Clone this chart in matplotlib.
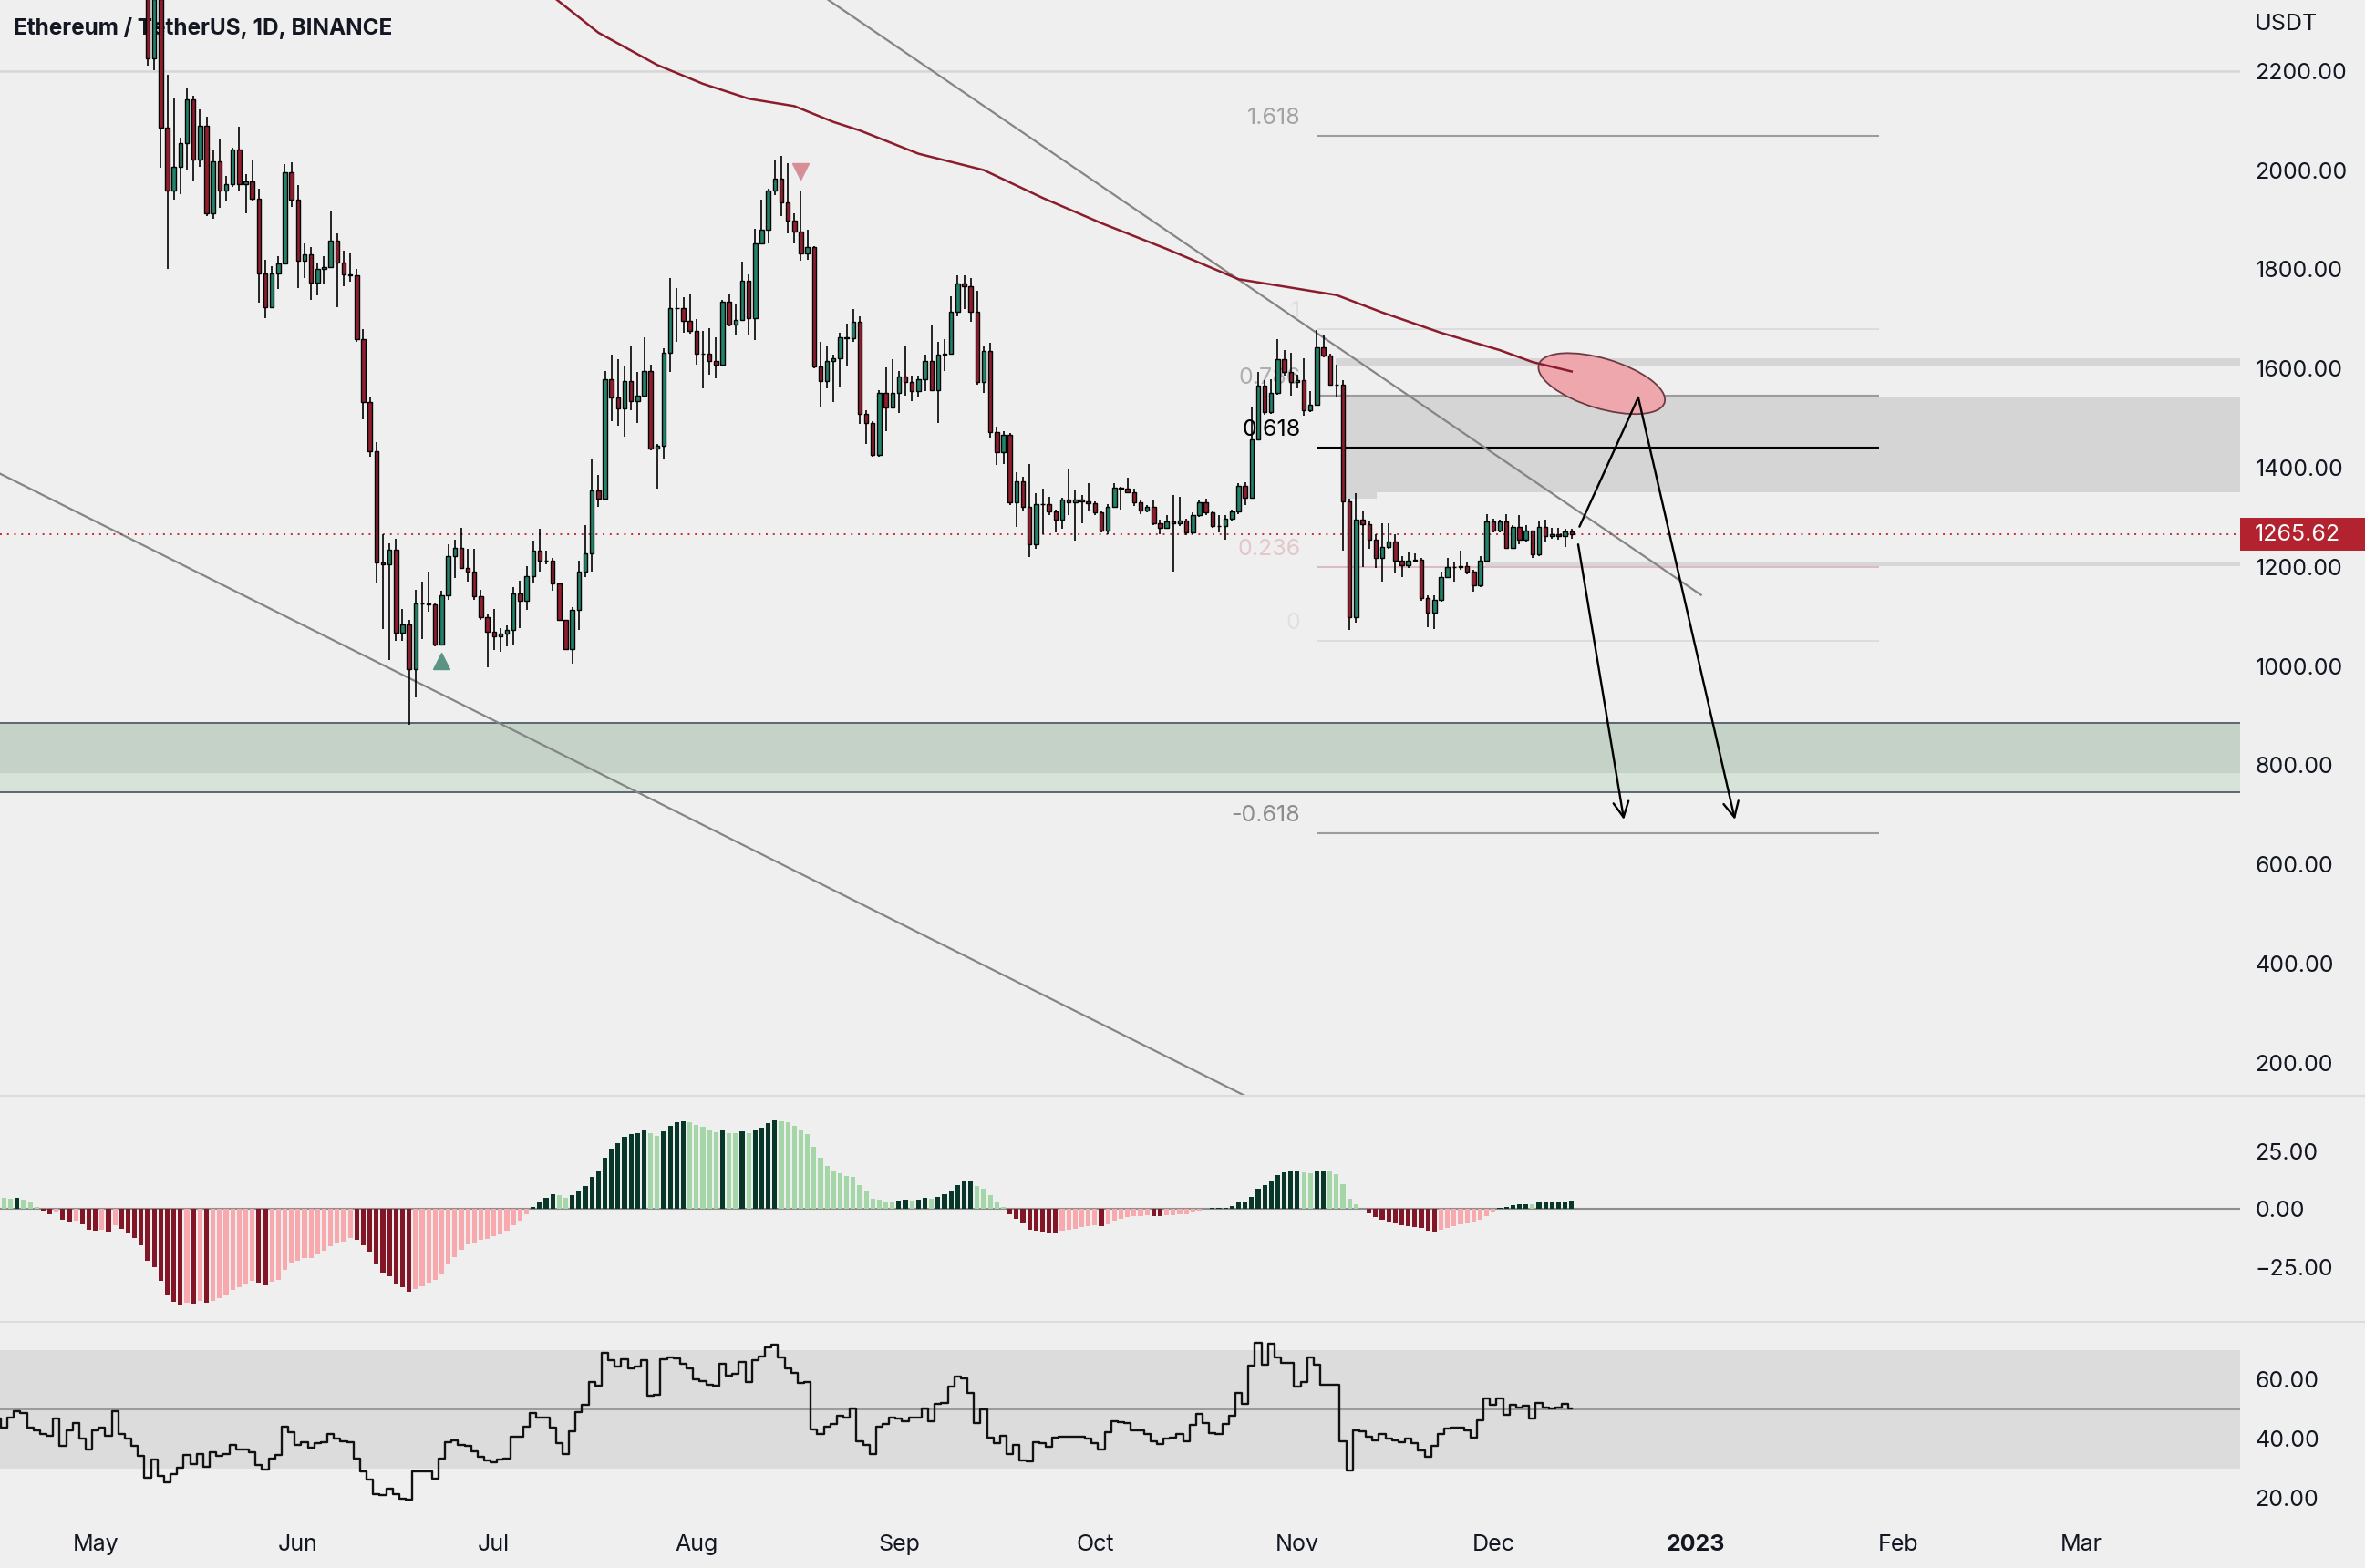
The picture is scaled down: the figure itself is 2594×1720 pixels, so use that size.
import numpy as np
import pandas as pd
import matplotlib
matplotlib.use("Agg")
import matplotlib.pyplot as plt
import matplotlib.transforms as mtransforms
from matplotlib.patches import Rectangle, Ellipse
from matplotlib.lines import Line2D

plt.rcParams['font.family'] = ['Inter', 'DejaVu Sans']

BG = '#efefef'
TXT = '#131722'
UP = '#24826a'
DOWN = '#8f1f2e'

T0 = pd.Timestamp('2022-05-01')


def day(s):
    return (pd.Timestamp(s) - T0).days


# ---- daily candles ETH/USDT, open = previous close ----
candle_start = '2022-05-09'
first_open = 2520

close_may = [2225, 2345, 2085, 1958, 2007, 2054, 2143, 2022, 2090, 1912, 2017, 1958, 1972, 2041, 1972, 1977,
             1942, 1792, 1724, 1792, 1811, 1996, 1940]
high_may = [2540, 2450, 2450, 2193, 2146, 2066, 2167, 2150, 2122, 2108, 2040, 2063, 1988, 2045, 2088, 1991,
            2021, 1963, 1820, 1807, 1826, 2012, 2015]
low_may = [2210, 2202, 2005, 1801, 1940, 1951, 2001, 1979, 2007, 1907, 1902, 1923, 1938, 1967, 1957, 1912,
           1938, 1733, 1702, 1722, 1760, 1810, 1926]

close_jun = [1818, 1830, 1773, 1801, 1805, 1857, 1813, 1790, 1788, 1660, 1532, 1433, 1208, 1206, 1234, 1068,
             1084, 993, 1126, 1126, 1124, 1044, 1143, 1222, 1238, 1197, 1191, 1141, 1098, 1070]
high_jun = [1970, 1853, 1844, 1813, 1827, 1916, 1872, 1837, 1832, 1801, 1679, 1544, 1452, 1265, 1248, 1257,
            1116, 1094, 1154, 1171, 1191, 1126, 1152, 1246, 1255, 1279, 1236, 1236, 1154, 1105]
low_jun = [1763, 1782, 1738, 1747, 1771, 1804, 1724, 1766, 1775, 1654, 1497, 1422, 1166, 1075, 1013, 1051,
           1051, 882, 936, 1054, 1110, 1040, 1044, 1133, 1178, 1197, 1171, 1133, 1094, 997]

close_jul = [1060, 1065, 1072, 1147, 1131, 1182, 1232, 1213, 1213, 1166, 1094, 1035, 1113, 1190, 1227, 1354,
             1338, 1579, 1541, 1520, 1574, 1535, 1546, 1595, 1438, 1445, 1632, 1722, 1722, 1696, 1675]
high_jul = [1115, 1077, 1082, 1160, 1173, 1201, 1253, 1276, 1232, 1218, 1166, 1094, 1119, 1213, 1285, 1419,
            1385, 1595, 1628, 1619, 1604, 1647, 1593, 1662, 1607, 1448, 1641, 1782, 1763, 1743, 1752]
low_jul = [1032, 1028, 1040, 1044, 1077, 1113, 1166, 1191, 1206, 1152, 1091, 1032, 1004, 1072, 1180, 1191,
           1321, 1335, 1494, 1485, 1463, 1516, 1490, 1541, 1435, 1357, 1419, 1593, 1654, 1672, 1670]

close_aug = [1630, 1630, 1616, 1608, 1735, 1688, 1698, 1776, 1701, 1853, 1879, 1958, 1982, 1935, 1898, 1876,
             1832, 1844, 1604, 1574, 1616, 1620, 1663, 1661, 1694, 1508, 1490, 1426, 1551, 1522, 1551]
high_aug = [1700, 1675, 1682, 1663, 1738, 1750, 1729, 1816, 1790, 1882, 1940, 1963, 2019, 2029, 2013, 1913,
            1958, 1879, 1846, 1654, 1644, 1628, 1672, 1691, 1719, 1705, 1516, 1494, 1557, 1602, 1619]
low_aug = [1607, 1560, 1588, 1581, 1604, 1685, 1668, 1698, 1668, 1657, 1851, 1853, 1949, 1907, 1872, 1853,
           1818, 1820, 1600, 1522, 1560, 1532, 1563, 1604, 1654, 1488, 1448, 1422, 1422, 1473, 1520]

close_sep = [1583, 1572, 1555, 1579, 1616, 1557, 1628, 1630, 1715, 1771, 1766, 1715, 1572, 1635, 1471, 1432,
             1466, 1330, 1372, 1321, 1246, 1326, 1326, 1311, 1295, 1335, 1330, 1335, 1332, 1328]
high_sep = [1595, 1647, 1585, 1585, 1628, 1687, 1654, 1660, 1745, 1788, 1788, 1782, 1757, 1644, 1651, 1482,
            1473, 1470, 1391, 1382, 1407, 1349, 1358, 1341, 1316, 1340, 1398, 1354, 1344, 1368]
low_sep = [1510, 1546, 1535, 1541, 1555, 1555, 1490, 1595, 1628, 1705, 1719, 1694, 1567, 1551, 1461, 1405,
           1407, 1325, 1281, 1313, 1220, 1236, 1265, 1304, 1269, 1276, 1304, 1253, 1288, 1313]

close_oct = [1310, 1274, 1321, 1360, 1357, 1350, 1330, 1313, 1321, 1288, 1279, 1291, 1288, 1293, 1269, 1304,
             1330, 1310, 1283, 1283, 1297, 1311, 1363, 1340, 1457, 1565, 1513, 1551, 1619, 1593, 1572]
high_oct = [1332, 1313, 1326, 1368, 1362, 1379, 1358, 1335, 1325, 1335, 1295, 1304, 1344, 1342, 1297, 1310,
            1335, 1338, 1311, 1304, 1304, 1316, 1368, 1370, 1522, 1593, 1576, 1579, 1660, 1638, 1632]
low_oct = [1304, 1269, 1265, 1319, 1316, 1349, 1323, 1307, 1310, 1285, 1266, 1276, 1191, 1283, 1264, 1265,
           1300, 1304, 1279, 1269, 1255, 1293, 1307, 1325, 1338, 1455, 1507, 1508, 1548, 1585, 1546]

close_nov = [1576, 1516, 1527, 1642, 1626, 1567, 1567, 1332, 1098, 1295, 1287, 1255, 1218, 1241, 1251, 1213,
             1204, 1213, 1215, 1138, 1107, 1133, 1180, 1199, 1199, 1201, 1190, 1163, 1213, 1291]
high_nov = [1588, 1621, 1555, 1677, 1666, 1630, 1607, 1576, 1338, 1349, 1313, 1294, 1266, 1288, 1288, 1265,
            1222, 1229, 1227, 1218, 1143, 1143, 1190, 1218, 1208, 1232, 1208, 1194, 1222, 1307]
low_nov = [1560, 1504, 1513, 1525, 1623, 1565, 1544, 1232, 1072, 1087, 1199, 1236, 1197, 1171, 1236, 1188,
           1180, 1197, 1208, 1131, 1079, 1075, 1129, 1178, 1171, 1194, 1185, 1150, 1159, 1213]

close_dec = [1274, 1291, 1238, 1281, 1255, 1274, 1225, 1281, 1263, 1265, 1263, 1271, 1265.62]
high_dec = [1297, 1295, 1307, 1285, 1304, 1285, 1274, 1291, 1295, 1279, 1279, 1276, 1276]
low_dec = [1269, 1269, 1236, 1236, 1246, 1250, 1219, 1222, 1251, 1257, 1255, 1241, 1257]

# ---- 200-day MA (read at a few points) ----
ma_dates = ['2022-07-10', '2022-07-17', '2022-07-26', '2022-08-02', '2022-08-09', '2022-08-16', '2022-08-22',
            '2022-08-26', '2022-09-04', '2022-09-14', '2022-09-23', '2022-10-02', '2022-10-12', '2022-10-23',
            '2022-10-31', '2022-11-07', '2022-11-14', '2022-11-23', '2022-12-02', '2022-12-07', '2022-12-13']
ma_values = [2350, 2277, 2212, 2174, 2144, 2129, 2097, 2080, 2033, 2000, 1944, 1893, 1841, 1780, 1763, 1748,
             1713, 1672, 1637, 1613, 1594]

# ---- indicator panels, daily from 2022-04-16 ----
ind_start = '2022-04-16'
macd_a = [7.0, 5.0, 4.3, 4.7, 4.1, 2.8, 1.1, -0.6, -2.2, -1.3,
          -4.5, -5.5, -4.8, -6.6, -8.9, -9.4, -8.8, -9.7, -7.1, -8.5,
          -10.5, -12.3, -15.6, -22.3, -24.9, -31.1, -37.0, -40.0, -41.2, -40.3,
          -40.7, -39.6, -40.4, -39.4, -38.6, -37.0, -35.0, -33.7, -32.4, -31.1,
          -31.7, -32.7, -31.5, -30.4, -26.2, -23.2, -22.3, -21.2, -21.0, -19.7,
          -18.0, -16.0, -14.7, -14.0, -12.5, -13.4, -15.6, -18.4, -23.9, -27.5,
          -29.1, -32.0, -33.7, -35.7, -34.4, -33.1, -31.7, -30.4, -27.8, -23.9,
          -20.6, -17.6, -15.3, -14.7, -13.4, -12.7, -11.8, -10.8, -9.2, -7.1,
          -4.9, -2.2, 1.1, 3.0, 5.0, 6.3, 5.9, 5.0, 5.9, 7.9,
          10.0, 13.9, 16.5, 22.3, 26.0, 28.4, 31.2, 32.3, 32.9, 34.5,
          32.8, 31.5, 33.5, 35.8, 37.4, 38.1, 37.5, 36.5, 35.4, 34.1,
          33.2, 33.9, 32.9, 32.8, 33.6, 32.8, 33.9, 35.2, 37.0]
macd_b = [38.2, 38.1, 37.4, 35.8, 33.9, 32.3, 26.9, 22.0, 18.8, 16.5,
          15.5, 14.4, 13.9, 10.2, 7.6, 4.3, 3.9, 3.3, 3.2, 3.7,
          3.9, 3.7, 3.9, 4.7, 4.3, 5.4, 6.3, 7.9, 10.2, 11.8,
          11.9, 10.0, 8.9, 5.9, 3.4, 1.1, -2.2, -4.2, -6.2, -8.8,
          -9.4, -9.7, -10.1, -10.2, -9.4, -9.0, -8.4, -7.9, -7.5, -7.1,
          -7.5, -6.6, -4.8, -4.2, -3.5, -3.1, -2.9, -2.6, -2.9, -2.95,
          -2.6, -2.5, -2.4, -2.1, -1.6, -0.7, 0.3, 0.5, 0.6, 0.7,
          1.5, 2.8, 3.0, 5.4, 8.7, 10.5, 12.5, 14.8, 15.9, 16.4,
          16.8, 15.8, 15.5, 16.4, 16.8, 16.1, 15.2, 10.9, 4.3, 2.0,
          0.2, -1.8, -3.5, -4.6, -5.2, -6.2, -6.8, -7.5, -7.6, -8.1,
          -9.2, -9.8, -8.8, -8.1, -7.5, -6.6, -6.2, -5.5, -4.5, -2.9,
          -0.9, 0.7, 1.1, 1.6, 2.0, 2.1, 2.05, 2.8, 2.85, 3.0,
          3.3, 3.4, 3.5]

rsi_a = [46.8, 43.7, 47.1, 49.4, 48.7, 43.9, 42.7, 41.7, 40.9, 46.8,
         37.5, 42.7, 45.3, 40.1, 36.5, 42.7, 43.9, 40.9, 49.4, 41.7,
         40.1, 37.7, 34.2, 26.9, 32.9, 27.5, 25.4, 28.0, 30.1, 34.4,
         31.6, 34.7, 30.7, 35.5, 34.2, 34.7, 38.0, 36.3, 36.5, 35.5,
         31.1, 29.5, 33.2, 34.4, 44.2, 42.2, 38.0, 38.8, 37.0, 38.4,
         38.8, 41.7, 40.1, 39.1, 38.8, 33.4, 29.1, 26.2, 21.3]
rsi_b = [21.0, 23.3, 21.2, 19.9, 19.4, 28.9, 28.9, 28.9, 26.7, 33.4,
         38.8, 39.6, 38.0, 37.7, 35.7, 33.9, 32.6, 32.2, 32.9, 33.4,
         40.6, 40.6, 44.2, 48.7, 47.0, 47.0, 43.7, 38.6, 34.9, 42.5,
         48.9, 51.5, 59.2, 58.0, 69.1, 66.5, 64.4, 66.7, 63.9, 64.4,
         66.5, 54.6, 54.9, 66.7, 67.3, 67.0, 65.2, 63.9, 60.1, 59.6,
         58.2, 58.0, 65.2, 61.3, 61.8, 66.0, 59.2, 66.5, 67.7, 70.8]
rsi_c = [71.6, 67.5, 63.9, 62.1, 58.7, 59.2, 43.2, 41.7, 44.2, 45.0,
         47.7, 47.0, 50.1, 39.1, 38.0, 34.9, 44.2, 45.0, 47.3, 46.8,
         45.8, 47.0, 47.3, 50.1, 45.8, 51.8, 52.0, 57.7, 61.0, 60.5,
         55.6, 45.3, 49.9, 40.4, 38.6, 41.1, 34.9, 38.0, 32.6, 32.4,
         38.8, 38.6, 37.3, 40.4, 40.6, 40.8, 40.8, 40.6, 40.1, 38.6,
         36.5, 42.2, 45.8, 45.6, 45.3, 42.9, 42.9, 41.5, 39.1, 38.3,
         40.1, 40.3, 41.5, 39.1, 44.6, 48.4, 45.3, 41.9, 41.7, 45.0,
         47.7, 55.3, 51.8, 64.6, 72.5, 64.9, 71.9, 67.5, 65.6, 65.6,
         57.7, 59.2, 67.5, 65.1, 58.2, 58.2, 58.2, 39.1, 29.3, 42.7,
         42.5, 40.8, 39.4, 41.5, 40.1, 39.4, 38.8, 40.1, 38.6, 36.0,
         33.9, 37.5, 41.5, 43.5, 43.7, 43.9, 42.7, 40.4, 46.3, 53.6,
         51.5, 53.6, 48.1, 51.5, 50.5, 51.2, 46.8, 52.0, 50.5, 50.2,
         50.5, 51.8, 50.1]

# ---- drawings on the chart ----
fib_low, fib_high = 1051.7, 1680.2
fib_from, fib_to = '2022-11-04', '2023-01-29'
fib_levels = [1.618, 1, 0.786, 0.618, 0.236, 0, -0.618]
fib_labels = ['1.618', '1', '0.786', '0.618', '0.236', '0', '-0.618']
fib_line_col = ['#9c9c9c', '#dcdcdc', '#9c9c9c', '#000000', '#dcbcc1', '#dcdcdc', '#9c9c9c']
fib_text_col = ['#a3a3a3', '#e0e0e0', '#aeaeae', '#000000', '#e3c7cb', '#e0e0e0', '#8d8d8d']

months = ['2022-05-01', '2022-06-01', '2022-07-01', '2022-08-01', '2022-09-01', '2022-10-01',
          '2022-11-01', '2022-12-01', '2023-01-01', '2023-02-01', '2023-03-01']
month_labels = ['May', 'Jun', 'Jul', 'Aug', 'Sep', 'Oct', 'Nov', 'Dec', '2023', 'Feb', 'Mar']


def fx(px):
    return px / 1568


def fy(py):
    return 1 - py / 1040


close = close_may + close_jun + close_jul + close_aug + close_sep + close_oct + close_nov + close_dec
high = high_may + high_jun + high_jul + high_aug + high_sep + high_oct + high_nov + high_dec
low = low_may + low_jun + low_jul + low_aug + low_sep + low_oct + low_nov + low_dec
c = np.array(close, dtype=float)
o = np.r_[first_open, c[:-1]]
cdays = np.arange(len(c)) + day(candle_start)
last_price = close[-1]

fig = plt.figure(figsize=(25.94, 17.20), dpi=100, facecolor=BG)
ax = fig.add_axes([0, fy(727), fx(1485), 727 / 1040])
axm = fig.add_axes([0, fy(877), fx(1485), 150 / 1040])
axr = fig.add_axes([0, fy(1007), fx(1485), 130 / 1040])

# zones
ax.axhspan(745.6, 886, color='#d7e3d9', lw=0, zorder=0.5)
ax.axhspan(784, 886, color='#c4d2c7', lw=0, zorder=0.6)
for lv in (886, 745.6):
    ax.axhline(lv, color='#5b676e', lw=1.4, zorder=0.7)
ax.axhline(2200, color='#d6d6d6', lw=1.8, zorder=0.7)

R = 400
ax.add_patch(Rectangle((191.3, 1350), R, 193, color='#d5d5d5', lw=0, zorder=0.8))
ax.add_patch(Rectangle((191.3, 1338), 4.8, 12, color='#d5d5d5', lw=0, zorder=0.8))
ax.add_patch(Rectangle((189.9, 1606), R, 14, color='#d6d6d6', lw=0, zorder=0.8))
ax.add_patch(Rectangle((212.7, 1202), R, 8, color='#d6d6d6', lw=0, zorder=0.8))

# fib levels
f0, f1 = day(fib_from), day(fib_to)
for lvl, lab, lc, tc in zip(fib_levels, fib_labels, fib_line_col, fib_text_col):
    p = fib_low + lvl * (fib_high - fib_low)
    ax.plot([f0, f1], [p, p], color=lc, lw=1.5, zorder=1.2, solid_capstyle='butt')
    ax.annotate(lab, xy=(f0, p), xytext=(-13, 14), textcoords='offset points', ha='right', va='center',
                fontsize=18, color=tc, zorder=1.3)

# title (under the candles)
ax.text(fx(9), fy(19), 'Ethereum / TetherUS, 1D, BINANCE', transform=fig.transFigure, fontsize=17.5,
        fontweight='bold', color=TXT, va='center', ha='left', zorder=1.3)

# trend lines
ax.plot([-14.62, 176.1], [1388, 133], color='#858585', lw=1.6, zorder=2)
ax.plot([112.2, 245.8], [2343, 1143.5], color='#858585', lw=1.6, zorder=2)

# last price line
ax.axhline(last_price, color='#c42b34', lw=1.4, linestyle=(0, (1, 3)), zorder=2.5)

# candles
up = c >= o
ax.vlines(cdays, low, high, color='black', lw=1.2, zorder=3)
ax.bar(cdays, np.abs(c - o), bottom=np.minimum(o, c), width=0.62, color=np.where(up, UP, DOWN),
       edgecolor='black', linewidth=1.0, zorder=3.1)

# signal triangles
ax.plot(day('2022-06-23'), 1011, marker='^', ms=13, color='#5c9484', zorder=3.5, ls='none')
ax.plot(day('2022-08-17'), 1998, marker='v', ms=13, color='#d78e97', zorder=3.5, ls='none')

# ellipse
ell_tr = fig.dpi_scale_trans + mtransforms.ScaledTranslation(230.6, 1569.6, ax.transData)
ax.add_patch(Ellipse((0, 0), 1.44, 0.546, angle=-16.8, transform=ell_tr, facecolor='#efa7ae',
                     edgecolor='#6e3a42', lw=1.3, zorder=4))

# MA line
ax.plot([day(d) for d in ma_dates], ma_values, color='#8b1c2c', lw=1.8, zorder=4.5)

# projection arrows
aprops = dict(arrowstyle='->,head_length=0.6,head_width=0.3', color='black', lw=1.7,
              shrinkA=0, shrinkB=0, mutation_scale=20)
ax.plot([227.2, 236.2], [1281.2, 1541.7], color='black', lw=1.7, zorder=5, solid_capstyle='round')
ax.annotate('', xy=(251.0, 690.6), xytext=(236.2, 1541.7), arrowprops=aprops, zorder=5)
ax.annotate('', xy=(234.0, 690.6), xytext=(227.0, 1245.3), arrowprops=aprops, zorder=5)

# price label on the axis
tr = mtransforms.blended_transform_factory(ax.transAxes, ax.transData)
ax.add_patch(Rectangle((1.0, last_price - 33.4), 83 / 1485, 66.8, transform=tr, facecolor='#b3232f',
                       edgecolor='none', clip_on=False, zorder=6))
ax.text(1.0 + 10 / 1485, last_price, f'{last_price:.2f}', transform=tr, color='white', fontsize=18,
        va='center', ha='left', zorder=7, clip_on=False)
fig.text(fx(1495), fy(16), 'USDT', fontsize=18, va='center', ha='left', color=TXT)

# MACD histogram
h = np.array(macd_a + macd_b)
hdays = np.arange(len(h)) + day(ind_start)
rising = np.r_[False, h[1:] > h[:-1]]
hcol = np.where(h >= 0, np.where(rising, '#08372a', '#a5d6a7'), np.where(rising, '#f7a9ad', '#821626'))
axm.bar(hdays, h, width=0.72, color=hcol, lw=0, zorder=2)
axm.axhline(0, color='#8e8e8e', lw=1.5, zorder=1)

# RSI
rsi = np.array(rsi_a + rsi_b + rsi_c)
rdays = np.arange(len(rsi)) + day(ind_start)
axr.axhspan(30, 70, color='#dcdcdc', lw=0, zorder=0.5)
axr.axhline(50, color='#9b9b9b', lw=1.5, zorder=1)
axr.plot(rdays, rsi, drawstyle='steps-mid', color='#111111', lw=1.7, zorder=2)

for yy in (727, 877):
    fig.add_artist(Line2D([0, 1], [fy(yy), fy(yy)], color='#dcdcdc', lw=1.5))

for a in (ax, axm, axr):
    a.set_facecolor(BG)
    a.set_xlim(-14.62, 328.3)
    for s in a.spines.values():
        s.set_visible(False)
    a.yaxis.tick_right()
    a.tick_params(axis='y', length=0, pad=12, labelsize=18, labelcolor=TXT)
    a.tick_params(axis='x', length=0)

ax.set_ylim(133.1, 2342.9)
ax.set_yticks(range(200, 2201, 200))
ax.set_yticklabels([f'{v:.2f}' for v in range(200, 2201, 200)])
ax.set_xticks([])

axm.set_ylim(-48.8, 48.8)
axm.set_yticks([25, 0, -25])
axm.set_yticklabels(['25.00', '0.00', '\u221225.00'])
axm.set_xticks([])

axr.set_ylim(13.2, 79.3)
axr.set_yticks([60, 40, 20])
axr.set_yticklabels(['60.00', '40.00', '20.00'])
axr.set_xticks([day(m) for m in months])
axr.set_xticklabels(month_labels, fontsize=18, color=TXT)
axr.get_xticklabels()[8].set_fontweight('bold')
axr.tick_params(axis='x', pad=13)

fig.savefig('out.png', dpi=100, facecolor=BG)
